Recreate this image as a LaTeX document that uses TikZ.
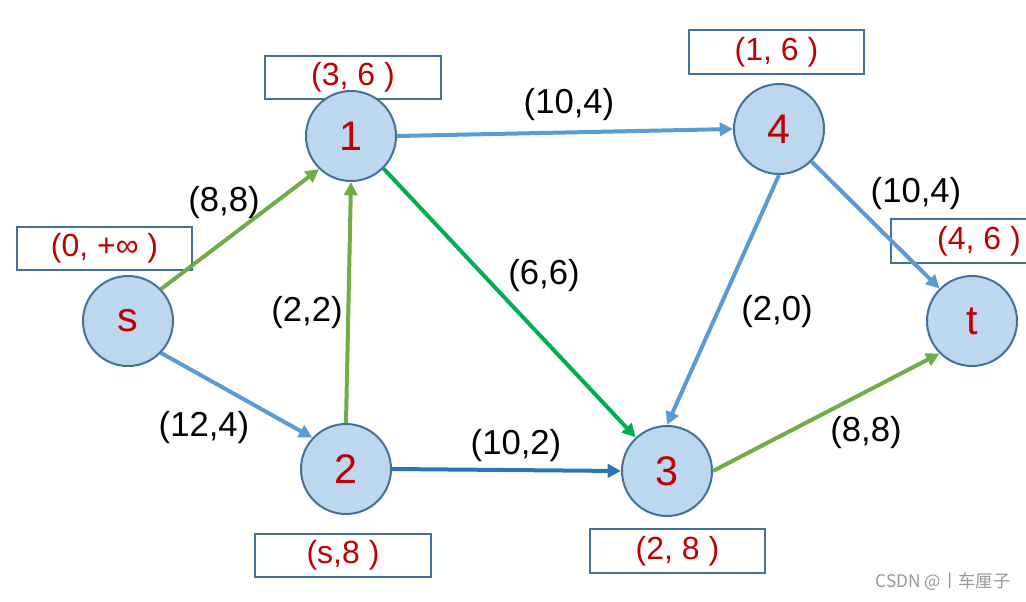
\documentclass[tikz,border=0pt]{standalone}
\usepackage{fontspec}
\setmainfont{Liberation Sans}
\newfontfamily\cjk{Noto Sans CJK SC}
\usetikzlibrary{arrows.meta}
\definecolor{cfill}{HTML}{BDD7EE}
\definecolor{cborder}{HTML}{41719C}
\definecolor{cred}{HTML}{C00000}
\definecolor{eblue}{HTML}{5B9BD5}
\definecolor{edblue}{HTML}{2E75B6}
\definecolor{egreen}{HTML}{70AD47}
\definecolor{ebgreen}{HTML}{00B050}
\begin{document}
\begin{tikzpicture}[x=0.75pt,y=-0.75pt,
  vert/.style={circle, draw=cborder, fill=cfill, line width=1.5pt, minimum size=67.5pt, inner sep=0pt, text=cred, font=\fontsize{31}{31}\selectfont},
  lblbox/.style={draw=cborder, fill=white, line width=1.5pt, minimum width=131.5pt, minimum height=32.5pt, inner sep=0pt, text=cred, font=\fontsize{24}{24}\selectfont},
  flow/.style={line width=3pt, -{Triangle[length=10pt,width=10pt]}},
  elbl/.style={inner sep=0pt, font=\fontsize{26}{26}\selectfont}
]
\useasboundingbox (0,0) rectangle (1026,601);
% boxes
\node[lblbox] (bs) at (104.5,248.5) {(0, +∞ )};
\node[lblbox] (b1) at (353,77.5) {(3, 6 )};
\node[lblbox] (b4) at (776.5,52) {(1, 6 )};
\node[lblbox] (bt) at (979,241) {(4, 6 )};
\node[lblbox] (b2) at (343,555.5) {(s,8 )};
\node[lblbox] (b3) at (677.5,551) {(2, 8 )};
% vertices
\node[vert] (s) at (128,321) {s};
\node[vert] (n1) at (351,136) {1};
\node[vert] (n4) at (779,129) {4};
\node[vert] (t) at (972,321) {t};
\node[vert] (n2) at (346,469) {2};
\node[vert] (n3) at (667,471) {3};
% edges
\draw[flow, egreen] (s.44) -- (n1.226);
\draw[flow, eblue] (s.-44) -- (n2.137);
\draw[flow, egreen] (n2.north) -- (n1.south);
\draw[flow, eblue] (n1.east) -- (n4.west);
\draw[flow, ebgreen] (n1.-45) -- (n3.133);
\draw[flow, edblue] (n2.east) -- (n3.west);
\draw[flow, eblue] (n4.south) -- (n3.north);
\draw[flow, eblue] (n4.-45) -- (t.135);
\draw[flow, egreen] (n3.east) -- (t.225);
% edge labels
\node[elbl] (l1) at (224,203) {(8,8)};
\node[elbl] (l2) at (204,428) {(12,4)};
\node[elbl] (l3) at (307,313) {(2,2)};
\node[elbl] (l4) at (569,105) {(10,4)};
\node[elbl] (l5) at (544,276) {(6,6)};
\node[elbl] (l6) at (516,446) {(10,2)};
\node[elbl] (l7) at (777,312) {(2,0)};
\node[elbl] (l8) at (916,194) {(10,4)};
\node[elbl] (l9) at (866,433) {(8,8)};
% watermark
\node[inner sep=0pt, text=black!40, font=\cjk\fontsize{13}{13}\selectfont] (wm) at (943,582) {CSDN @丨车厘子};
\end{tikzpicture}
\end{document}
